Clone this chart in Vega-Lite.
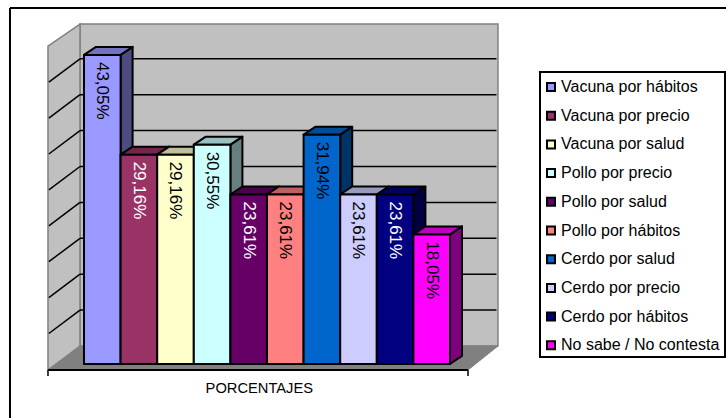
{
  "$schema": "https://vega.github.io/schema/vega-lite/v6.json",
  "width": 726,
  "height": 419,
  "padding": 0,
  "autosize": {"type": "none"},
  "background": "white",
  "config": {"view": {"stroke": null}, "font": "Liberation Sans"},
  "data": {"values": [{"marco": 1}]},
  "datasets": {
    "respuestas": [
      {"respuesta": "Vacuna por hábitos", "orden": 0, "valor": 43.05, "etiqueta": "43,05%", "tinta": "oscura"},
      {"respuesta": "Vacuna por precio", "orden": 1, "valor": 29.16, "etiqueta": "29,16%", "tinta": "clara"},
      {"respuesta": "Vacuna por salud", "orden": 2, "valor": 29.16, "etiqueta": "29,16%", "tinta": "oscura"},
      {"respuesta": "Pollo por precio", "orden": 3, "valor": 30.55, "etiqueta": "30,55%", "tinta": "oscura"},
      {"respuesta": "Pollo por salud", "orden": 4, "valor": 23.61, "etiqueta": "23,61%", "tinta": "clara"},
      {"respuesta": "Pollo por hábitos", "orden": 5, "valor": 23.61, "etiqueta": "23,61%", "tinta": "oscura"},
      {"respuesta": "Cerdo por salud", "orden": 6, "valor": 31.94, "etiqueta": "31,94%", "tinta": "oscura"},
      {"respuesta": "Cerdo por precio", "orden": 7, "valor": 23.61, "etiqueta": "23,61%", "tinta": "oscura"},
      {"respuesta": "Cerdo por hábitos", "orden": 8, "valor": 23.61, "etiqueta": "23,61%", "tinta": "clara"},
      {"respuesta": "No sabe / No contesta", "orden": 9, "valor": 18.05, "etiqueta": "18,05%", "tinta": "oscura"}
    ],
    "rejilla": [{"nivel": 5}, {"nivel": 10}, {"nivel": 15}, {"nivel": 20}, {"nivel": 25}, {"nivel": 30}, {"nivel": 35}, {"nivel": 40}],
    "pared": [{"u": -0.984, "t": 44.29, "b": -0.836}, {"u": -0.109, "t": 47.35, "b": 2.507}],
    "suelo": [{"nivel": -0.836, "ini": -0.984, "fin": 10.492}, {"nivel": 2.507, "ini": -0.109, "fin": 11.311}]
  },
  "layer": [
    {
      "mark": {"type": "rule", "color": "black", "strokeWidth": 2},
      "encoding": {
        "x": {"datum": -2.022, "type": "quantitative", "scale": {"domain": [-2.295, 17.541], "range": [0, 726]}, "axis": null},
        "y": {"datum": 49.58, "type": "quantitative", "scale": {"domain": [-7.66, 50.7], "range": [419, 0]}, "axis": null},
        "y2": {"datum": -7.52}
      }
    },
    {
      "mark": {"type": "rule", "color": "black", "strokeWidth": 2},
      "encoding": {
        "x": {"datum": -2.022, "type": "quantitative", "scale": {"domain": [-2.295, 17.541], "range": [0, 726]}, "axis": null},
        "x2": {"datum": 17.541},
        "y": {"datum": 49.58, "type": "quantitative", "scale": {"domain": [-7.66, 50.7], "range": [419, 0]}, "axis": null}
      }
    },
    {
      "mark": {"type": "rect", "fill": "white", "stroke": "black", "strokeWidth": 2},
      "encoding": {
        "x": {"datum": 12.459, "type": "quantitative", "scale": {"domain": [-2.295, 17.541], "range": [0, 726]}, "axis": null},
        "x2": {"datum": 17.514},
        "y": {"datum": 40.67, "type": "quantitative", "scale": {"domain": [-7.66, 50.7], "range": [419, 0]}, "axis": null},
        "y2": {"datum": 0.975}
      }
    },
    {
      "mark": {"type": "rect", "fill": "#C0C0C0", "stroke": "#808080", "strokeWidth": 1.5},
      "encoding": {
        "x": {"datum": -0.109, "type": "quantitative", "scale": {"domain": [-2.295, 17.541], "range": [0, 726]}, "axis": null},
        "x2": {"datum": 11.311},
        "y": {"datum": 47.35, "type": "quantitative", "scale": {"domain": [-7.66, 50.7], "range": [419, 0]}, "axis": null},
        "y2": {"datum": 2.507}
      }
    },
    {
      "data": {"name": "pared"},
      "mark": {"type": "area", "fill": "#C0C0C0", "stroke": "#808080", "strokeWidth": 1.5},
      "encoding": {
        "x": {"field": "u", "type": "quantitative", "scale": {"domain": [-2.295, 17.541], "range": [0, 726]}, "axis": null},
        "y": {"field": "t", "type": "quantitative", "scale": {"domain": [-7.66, 50.7], "range": [419, 0]}, "axis": null},
        "y2": {"field": "b"}
      }
    },
    {
      "data": {"name": "suelo"},
      "mark": {"type": "area", "orient": "horizontal", "fill": "#808080", "stroke": "#808080", "strokeWidth": 1},
      "encoding": {
        "y": {"field": "nivel", "type": "quantitative", "scale": {"domain": [-7.66, 50.7], "range": [419, 0]}, "axis": null},
        "x": {"field": "ini", "type": "quantitative", "scale": {"domain": [-2.295, 17.541], "range": [0, 726]}, "axis": null},
        "x2": {"field": "fin"}
      }
    },
    {
      "data": {"name": "rejilla"},
      "mark": {"type": "rule", "color": "black", "strokeWidth": 1.5},
      "transform": [{"calculate": "datum.nivel + 2.507", "as": "yb"}],
      "encoding": {
        "x": {"datum": -0.109, "type": "quantitative", "scale": {"domain": [-2.295, 17.541], "range": [0, 726]}, "axis": null},
        "x2": {"datum": 11.27},
        "y": {"field": "yb", "type": "quantitative", "scale": {"domain": [-7.66, 50.7], "range": [419, 0]}, "axis": null}
      }
    },
    {
      "data": {"name": "rejilla"},
      "mark": {"type": "line", "color": "black", "strokeWidth": 1.5},
      "transform": [
        {"calculate": "[0, 1]", "as": "p"},
        {"flatten": ["p"]},
        {"calculate": "-0.96 + datum.p * 0.851", "as": "px"},
        {"calculate": "datum.nivel - 0.75 + datum.p * 3.257", "as": "py"}
      ],
      "encoding": {
        "x": {"field": "px", "type": "quantitative", "scale": {"domain": [-2.295, 17.541], "range": [0, 726]}, "axis": null},
        "y": {"field": "py", "type": "quantitative", "scale": {"domain": [-7.66, 50.7], "range": [419, 0]}, "axis": null},
        "detail": {"field": "nivel"},
        "order": {"field": "p"}
      }
    },
    {
      "mark": {"type": "rule", "color": "black", "strokeWidth": 2},
      "encoding": {
        "x": {"datum": -0.984, "type": "quantitative", "scale": {"domain": [-2.295, 17.541], "range": [0, 726]}, "axis": null},
        "x2": {"datum": 10.492},
        "y": {"datum": -0.836, "type": "quantitative", "scale": {"domain": [-7.66, 50.7], "range": [419, 0]}, "axis": null}
      }
    },
    {
      "mark": {"type": "rule", "color": "black", "strokeWidth": 1.5},
      "encoding": {
        "x": {"datum": -0.984, "type": "quantitative", "scale": {"domain": [-2.295, 17.541], "range": [0, 726]}, "axis": null},
        "y": {"datum": -0.836, "type": "quantitative", "scale": {"domain": [-7.66, 50.7], "range": [419, 0]}, "axis": null},
        "y2": {"datum": -1.67}
      }
    },
    {
      "mark": {"type": "rule", "color": "black", "strokeWidth": 1.5},
      "encoding": {
        "x": {"datum": 10.492, "type": "quantitative", "scale": {"domain": [-2.295, 17.541], "range": [0, 726]}, "axis": null},
        "y": {"datum": -0.836, "type": "quantitative", "scale": {"domain": [-7.66, 50.7], "range": [419, 0]}, "axis": null},
        "y2": {"datum": -1.67}
      }
    },
    {
      "data": {"name": "respuestas"},
      "mark": {"type": "area", "stroke": "black", "strokeWidth": 2, "strokeJoin": "round"},
      "transform": [
        {"calculate": "[0, 1]", "as": "p"},
        {"flatten": ["p"]},
        {"calculate": "datum.orden + 1 + datum.p * 0.328", "as": "lx"},
        {"calculate": "datum.valor + datum.p * 1.114", "as": "ly"},
        {"calculate": "datum.p * 1.114", "as": "ly0"}
      ],
      "encoding": {
        "x": {"field": "lx", "type": "quantitative", "scale": {"domain": [-2.295, 17.541], "range": [0, 726]}, "axis": null},
        "y": {"field": "ly", "type": "quantitative", "scale": {"domain": [-7.66, 50.7], "range": [419, 0]}, "axis": null},
        "y2": {"field": "ly0"},
        "detail": {"field": "orden"},
        "fill": {
          "field": "respuesta", "type": "nominal", "sort": null, "legend": null,
          "scale": {"domain": ["Vacuna por hábitos", "Vacuna por precio", "Vacuna por salud", "Pollo por precio", "Pollo por salud", "Pollo por hábitos", "Cerdo por salud", "Cerdo por precio", "Cerdo por hábitos", "No sabe / No contesta"],
            "range": ["#4C4C7F", "#4C1933", "#7F7F66", "#667F7F", "#330033", "#7F4040", "#003366", "#66667F", "#000040", "#7F007F"]}
        }
      }
    },
    {
      "data": {"name": "respuestas"},
      "mark": {"type": "area", "orient": "horizontal", "stroke": "black", "strokeWidth": 2, "strokeJoin": "round"},
      "transform": [
        {"calculate": "[0, 1]", "as": "p"},
        {"flatten": ["p"]},
        {"calculate": "datum.valor + datum.p * 1.114", "as": "ty"},
        {"calculate": "datum.orden + datum.p * 0.328", "as": "tx"},
        {"calculate": "datum.orden + 1 + datum.p * 0.328", "as": "tx2"}
      ],
      "encoding": {
        "y": {"field": "ty", "type": "quantitative", "scale": {"domain": [-7.66, 50.7], "range": [419, 0]}, "axis": null},
        "x": {"field": "tx", "type": "quantitative", "scale": {"domain": [-2.295, 17.541], "range": [0, 726]}, "axis": null},
        "x2": {"field": "tx2"},
        "detail": {"field": "orden"},
        "fill": {
          "field": "respuesta", "type": "nominal", "sort": null, "legend": null,
          "scale": {"domain": ["Vacuna por hábitos", "Vacuna por precio", "Vacuna por salud", "Pollo por precio", "Pollo por salud", "Pollo por hábitos", "Cerdo por salud", "Cerdo por precio", "Cerdo por hábitos", "No sabe / No contesta"],
            "range": ["#7373BF", "#73264C", "#BFBF99", "#99BFBF", "#4C004C", "#BF6060", "#004C99", "#9999BF", "#000060", "#BF00BF"]}
        }
      }
    },
    {
      "data": {"name": "respuestas"},
      "mark": {"type": "rect", "stroke": "black", "strokeWidth": 2},
      "transform": [{"calculate": "datum.orden + 1", "as": "fin"}],
      "encoding": {
        "x": {"field": "orden", "type": "quantitative", "scale": {"domain": [-2.295, 17.541], "range": [0, 726]}, "axis": null},
        "x2": {"field": "fin"},
        "y": {"field": "valor", "type": "quantitative", "scale": {"domain": [-7.66, 50.7], "range": [419, 0]}, "axis": null},
        "y2": {"datum": 0},
        "fill": {
          "field": "respuesta", "type": "nominal", "sort": null,
          "scale": {"domain": ["Vacuna por hábitos", "Vacuna por precio", "Vacuna por salud", "Pollo por precio", "Pollo por salud", "Pollo por hábitos", "Cerdo por salud", "Cerdo por precio", "Cerdo por hábitos", "No sabe / No contesta"],
            "range": ["#9999FF", "#993366", "#FFFFCC", "#CCFFFF", "#660066", "#FF8080", "#0066CC", "#CCCCFF", "#000080", "#FF00FF"]},
          "legend": {
            "title": null, "orient": "none", "legendX": 543, "legendY": 79, "padding": 0,
            "symbolType": "square", "symbolSize": 64, "symbolStrokeColor": "black", "symbolStrokeWidth": 2,
            "labelFont": "Liberation Sans", "labelFontSize": 16, "labelColor": "black", "labelOffset": 2,
            "rowPadding": 12.7, "labelLimit": 220, "columns": 1
          }
        }
      }
    },
    {
      "data": {"name": "respuestas"},
      "mark": {"type": "text", "angle": 90, "align": "left", "baseline": "middle", "dx": 7, "font": "Liberation Sans", "fontSize": 17},
      "transform": [{"calculate": "datum.orden + 0.5", "as": "centro"}],
      "encoding": {
        "x": {"field": "centro", "type": "quantitative", "scale": {"domain": [-2.295, 17.541], "range": [0, 726]}, "axis": null},
        "y": {"field": "valor", "type": "quantitative", "scale": {"domain": [-7.66, 50.7], "range": [419, 0]}, "axis": null},
        "text": {"field": "etiqueta"},
        "color": {"field": "tinta", "type": "nominal", "legend": null, "scale": {"domain": ["oscura", "clara"], "range": ["#000000", "#FFFFFF"]}}
      }
    },
    {
      "data": {"values": [{"rotulo": "PORCENTAJES"}]},
      "mark": {"type": "text", "align": "center", "baseline": "middle", "font": "Liberation Sans", "fontSize": 14.7},
      "encoding": {
        "x": {"datum": 4.79, "type": "quantitative", "scale": {"domain": [-2.295, 17.541], "range": [0, 726]}, "axis": null},
        "y": {"datum": -3.48, "type": "quantitative", "scale": {"domain": [-7.66, 50.7], "range": [419, 0]}, "axis": null},
        "text": {"field": "rotulo"}
      }
    }
  ],
  "resolve": {"scale": {"fill": "independent", "color": "independent"}}
}
